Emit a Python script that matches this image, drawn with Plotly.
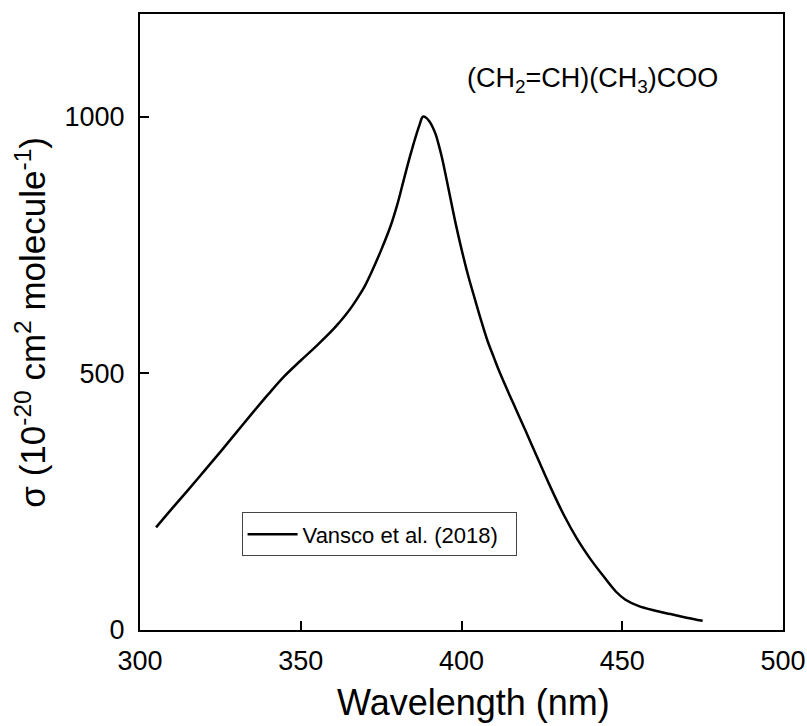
import plotly.graph_objects as go

wavelength = [305, 310, 315, 320, 325, 330, 335, 340, 345, 350, 355, 360, 362, 364, 366,
              368, 370, 372, 375, 378, 380, 382, 384, 386, 387, 388, 389, 390, 391, 392,
              393, 394, 396, 398, 400, 402, 404, 406, 408, 410, 412, 416, 420, 424, 428,
              432, 436, 440, 444, 448, 451, 455, 460, 465, 470, 475]
sigma = [200, 237, 273, 310, 347, 385, 423, 460, 495, 525, 554, 585, 599, 614, 631,
         650, 671, 697, 740, 788, 828, 876, 923, 966, 985, 1000, 998, 991, 980, 965,
         943, 918, 858, 797, 742, 692, 648, 605, 565, 532, 500, 443, 387, 330, 274,
         222, 177, 139, 106, 75, 59, 47, 38, 31, 24, 18]
series_name = "Vansco et al. (2018)"
x_ticks = [300, 350, 400, 450, 500]
y_ticks = [0, 500, 1000]
x_title = "Wavelength (nm)"
y_title = "σ (10<sup>-20</sup> cm<sup>2</sup> molecule<sup>-1</sup>)"
label = "(CH<sub>2</sub>=CH)(CH<sub>3</sub>)COO"

FONT = "Liberation Sans, Arial, sans-serif"

fig = go.Figure()
fig.add_trace(go.Scatter(
    x=wavelength, y=sigma, mode="lines", name=series_name + "\u00a0\u00a0",
    line=dict(color="black", width=2.5, shape="spline", smoothing=1.0),
    showlegend=True,
))

fig.update_layout(
    width=807, height=726,
    margin=dict(l=140, r=24, t=14, b=96),
    paper_bgcolor="white", plot_bgcolor="white",
    font=dict(family=FONT, color="black", size=27),
    showlegend=True,
    legend=dict(
        x=0.158, y=0.191, xanchor="left", yanchor="top",
        bordercolor="#444", borderwidth=1, bgcolor="white",
        font=dict(size=22, family=FONT, color="black"),
        itemwidth=50,
    ),
    xaxis=dict(
        range=[300, 500], tickvals=x_ticks, ticktext=[str(v) for v in x_ticks],
        ticks="inside", ticklen=9, tickwidth=2, tickcolor="black",
        showline=True, linecolor="black", linewidth=2, mirror=True,
        showgrid=False, zeroline=False, automargin=False,
        ticklabelstandoff=6,
        tickfont=dict(size=27, family=FONT),
    ),
    yaxis=dict(
        range=[0, 1200], tickvals=y_ticks, ticktext=[str(v) for v in y_ticks],
        ticks="inside", ticklen=9, tickwidth=2, tickcolor="black",
        showline=True, linecolor="black", linewidth=2, mirror=True,
        showgrid=False, zeroline=False, automargin=False,
        ticklabelstandoff=8,
        tickfont=dict(size=27, family=FONT),
    ),
    annotations=[
        dict(text=label, xref="x", yref="y", x=440.6, y=1072,
             xanchor="center", yanchor="middle", showarrow=False,
             font=dict(size=27, family=FONT, color="black")),
        dict(text=x_title, xref="paper", yref="paper", x=0.518, y=-0.118,
             xanchor="center", yanchor="middle", showarrow=False,
             font=dict(size=36, family=FONT, color="black")),
        dict(text=y_title, xref="paper", yref="paper", x=-0.170, y=0.500,
             xanchor="center", yanchor="middle", textangle=-90, showarrow=False,
             font=dict(size=35, family=FONT, color="black")),
    ],
)

fig.write_html("out.html", post_script="document.body.style.margin='0';",
               config={"displayModeBar": False})
